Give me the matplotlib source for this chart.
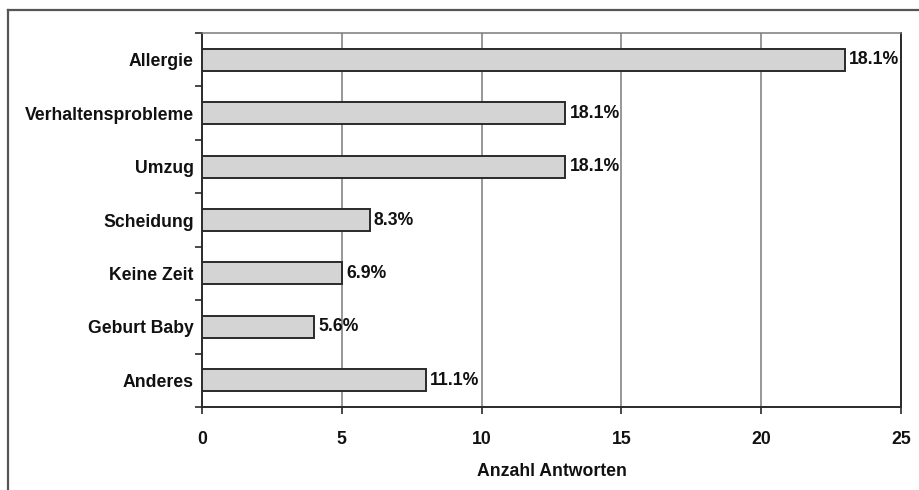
import matplotlib
matplotlib.use("Agg")
import matplotlib.pyplot as plt
from matplotlib.lines import Line2D
from matplotlib.ticker import FixedLocator, NullFormatter

# Reasons given (top to bottom), answer counts and their printed shares
categories = ["Allergie", "Verhaltensprobleme", "Umzug", "Scheidung",
              "Keine Zeit", "Geburt Baby", "Anderes"]
counts = [23, 13, 13, 6, 5, 4, 8]
share_labels = ["18.1%", "18.1%", "18.1%", "8.3%", "6.9%", "5.6%", "11.1%"]
x_ticks = [0, 5, 10, 15, 20, 25]
x_label = "Anzahl Antworten"

plt.rcParams["font.family"] = ["Liberation Sans", "DejaVu Sans"]
plt.rcParams["font.weight"] = "bold"
FS = 12.7
TXT = "#111111"

W, H = 919, 490
fig = plt.figure(figsize=(W / 100, H / 100), dpi=100)
fig.patch.set_facecolor("white")

# Frame around the whole graphic (left and top edges show)
fig.add_artist(Line2D([7.5 / W, 7.5 / W], [0, 1 - 10.5 / H],
                      transform=fig.transFigure, color="#555555", lw=1.6))
fig.add_artist(Line2D([7.5 / W, 1], [1 - 10.5 / H, 1 - 10.5 / H],
                      transform=fig.transFigure, color="#555555", lw=1.6))

ax = fig.add_axes([202 / W, (H - 407) / H, 699 / W, 374 / H])

ypos = list(range(len(categories)))
ax.barh(ypos, counts, height=0.41, color="#d4d4d4",
        edgecolor="#2a2a2a", linewidth=1.4, zorder=3)

for y, v, lab in zip(ypos, counts, share_labels):
    ax.annotate(lab, (v, y), xytext=(3, 0), textcoords="offset points",
                va="center", ha="left", fontsize=FS, fontweight="bold",
                color=TXT, zorder=4)

ax.set_xlim(0, 25)
ax.set_ylim(len(categories) - 0.5, -0.5)

ax.set_xticks(x_ticks)
ax.set_xticklabels([str(t) for t in x_ticks], fontsize=FS, fontweight="bold",
                   color=TXT)
ax.set_yticks(ypos)
ax.set_yticklabels(categories, fontsize=FS, fontweight="bold", color=TXT)
ax.tick_params(axis="y", which="major", length=0, pad=6)
ax.yaxis.set_minor_locator(FixedLocator([i - 0.5 for i in range(len(categories) + 1)]))
ax.yaxis.set_minor_formatter(NullFormatter())
ax.tick_params(axis="y", which="minor", length=5, width=1.2, color="#2a2a2a",
               direction="out")
ax.tick_params(axis="x", which="major", length=5, width=1.2, color="#2a2a2a",
               direction="out", pad=12)

ax.set_xlabel(x_label, fontsize=FS, fontweight="bold", color=TXT,
              labelpad=11)

ax.grid(axis="x", color="#7a7a7a", linewidth=1.1, zorder=0)
ax.set_axisbelow(True)

for side in ("left", "bottom", "right"):
    ax.spines[side].set_color("#2a2a2a")
    ax.spines[side].set_linewidth(1.4)
ax.spines["top"].set_color("#7a7a7a")
ax.spines["top"].set_linewidth(1.1)

fig.savefig("out.png", dpi=100, facecolor="white")
